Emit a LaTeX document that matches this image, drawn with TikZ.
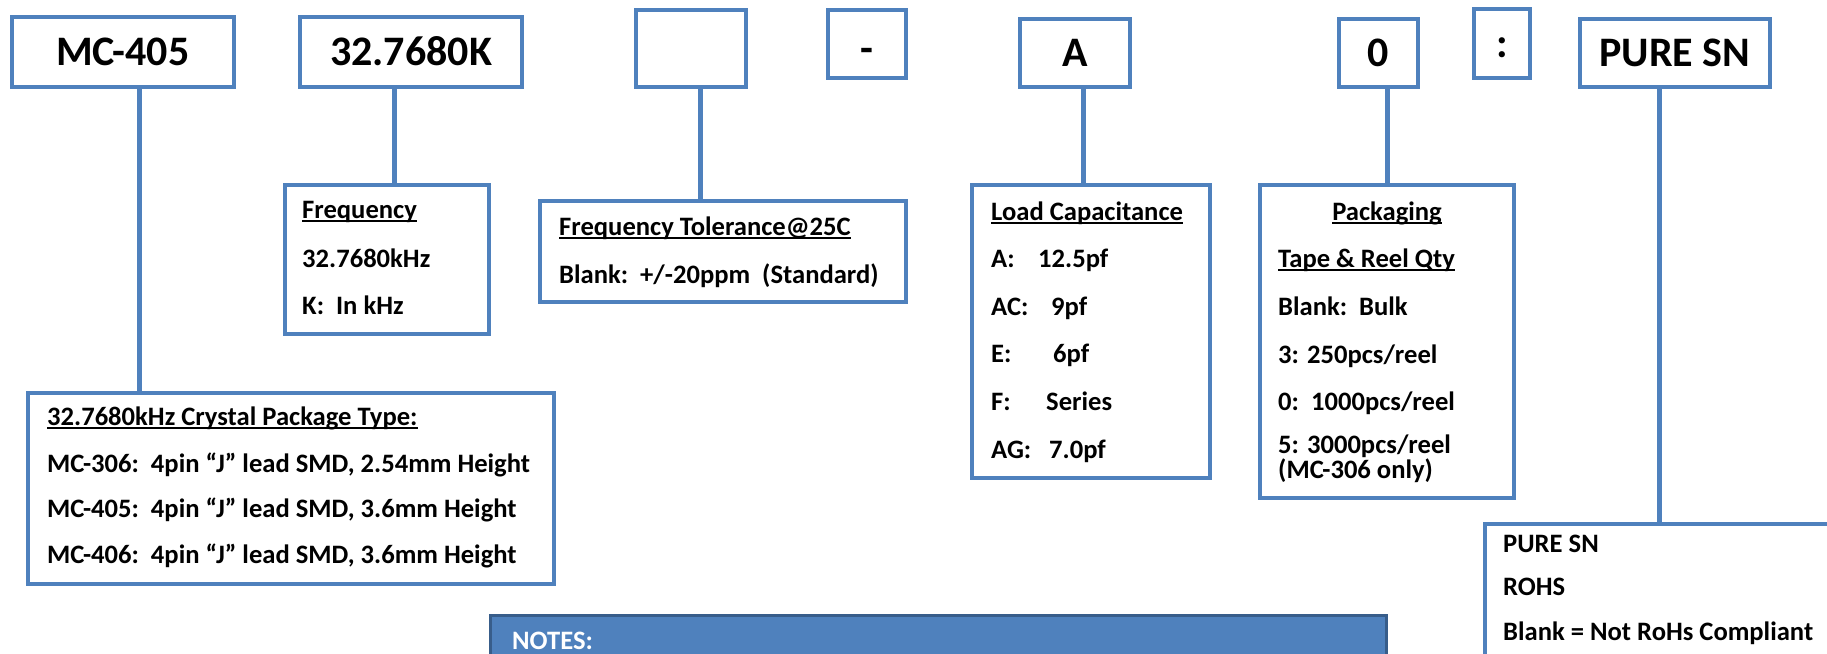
\documentclass[tikz,border=0pt]{standalone}
\usepackage{fontspec}
\setmainfont{Carlito}
\definecolor{boxblue}{RGB}{79,129,189}
\definecolor{noteedge}{RGB}{56,93,138}
\tikzstyle{codebox} = [rectangle, draw=boxblue, line width=4.5pt, inner sep=0pt, text height=27pt, text depth=0pt, font=\fontsize{42}{50}\selectfont\bfseries]
\tikzstyle{infobox} = [rectangle, draw=boxblue, line width=4.5pt, inner sep=0pt]
\tikzstyle{notebox} = [rectangle, fill=boxblue, draw=noteedge, line width=3pt, inner sep=0pt]
\tikzstyle{entry} = [anchor=base west, inner sep=0pt, font=\fontsize{26.6}{30}\selectfont\bfseries]
\tikzstyle{link} = [draw=boxblue, line width=5pt]
\newcommand{\ulhead}[1]{\setbox0=\hbox{#1}\rlap{\rule[-4pt]{\wd0}{2pt}}\box0}

\begin{document}
\begin{tikzpicture}[x=1pt, y=-1pt]
	\useasboundingbox (0, 0) rectangle (1827, 653);
	\clip (0, 0) rectangle (1827, 653);
	% part number code
	\node (mc) at (122.75, 52) [codebox, minimum width=222pt, minimum height=70pt] {MC-405};
	\node (freqcode) at (411, 52) [codebox, minimum width=222pt, minimum height=70pt] {32.7680K};
	\node (tolcode) at (691, 48.5) [codebox, minimum width=110pt, minimum height=77pt] {};
	\node (dash) at (867, 44) [codebox, text height=37pt, minimum width=78pt, minimum height=68pt] {-};
	\node (loadcode) at (1075, 53) [codebox, minimum width=110pt, minimum height=68pt] {A};
	\node (packcode) at (1378.5, 53) [codebox, minimum width=79pt, minimum height=68pt] {0};
	\node (colon) at (1502, 43.5) [codebox, minimum width=56pt, minimum height=69pt] {:};
	\node (sncode) at (1675, 53) [codebox, minimum width=190pt, minimum height=68pt] {PURE SN};

	% explanation boxes
	\node (freq) at (387, 259.5) [infobox, minimum width=204pt, minimum height=149pt] {};
	\node (tol) at (723, 251.5) [infobox, minimum width=366pt, minimum height=101pt] {};
	\node (load) at (1091, 331.5) [infobox, minimum width=238pt, minimum height=293pt] {};
	\node (pack) at (1387, 341.5) [infobox, minimum width=254pt, minimum height=313pt] {};
	\node (pkg) at (291, 488.5) [infobox, minimum width=526pt, minimum height=191pt] {};
	\node (rohs) at (1672.5, 612) [infobox, minimum width=375pt, minimum height=176pt] {};
	\node (notes) at (938.5, 660) [notebox, minimum width=896pt, minimum height=89pt] {};

	% connectors
	\coordinate (mcx) at (139, 0);
	\coordinate (freqx) at (394, 0);
	\coordinate (tolx) at (700, 0);
	\coordinate (loadx) at (1083, 0);
	\coordinate (packx) at (1387, 0);
	\coordinate (snx) at (1659, 0);
	\draw [link] (mc.south -| mcx) -- (pkg.north -| mcx);
	\draw [link] (freqcode.south -| freqx) -- (freq.north -| freqx);
	\draw [link] (tolcode.south -| tolx) -- (tol.north -| tolx);
	\draw [link] (loadcode.south -| loadx) -- (load.north -| loadx);
	\draw [link] (packcode.south -| packx) -- (pack.north -| packx);
	\draw [link] (sncode.south -| snx) -- (rohs.north -| snx);

	% texts
	\node (freq1) at (302, 218) [entry] {\ulhead{Frequency}};
	\node (freq2) at (302, 267) [entry] {32.7680kHz};
	\node (freq3) at (302, 314) [entry] {K:\ \ In kHz};

	\node (tol1) at (559, 235) [entry] {\ulhead{Frequency Tolerance@25C}};
	\node (tol2) at (559, 283) [entry] {Blank:\ \ +/-20ppm\ \ (Standard)};

	\node (load1) at (991, 220) [entry] {\ulhead{Load Capacitance}};
	\node (load2) at (991, 267) [entry] {\makebox[47pt][l]{A:}12.5pf};
	\node (load3) at (991, 315) [entry] {\makebox[60pt][l]{AC:}9pf};
	\node (load4) at (991, 362) [entry] {\makebox[62pt][l]{E:}6pf};
	\node (load5) at (991, 410) [entry] {\makebox[55pt][l]{F:}Series};
	\node (load6) at (991, 458) [entry] {\makebox[58pt][l]{AG:}7.0pf};

	\node (pack1) at (1387, 220) [entry, anchor=base] {\ulhead{Packaging}};
	\node (pack2) at (1278, 267) [entry] {\ulhead{Tape \& Reel Qty}};
	\node (pack3) at (1278, 315) [entry] {Blank:\ \ Bulk};
	\node (pack4) at (1278, 363) [entry] {3: 250pcs/reel};
	\node (pack5) at (1278, 410) [entry] {0:\ \ 1000pcs/reel};
	\node (pack6) at (1278, 453) [entry] {5: 3000pcs/reel};
	\node (pack7) at (1278, 478) [entry] {(MC-306 only)};

	\node (pkg1) at (47, 425) [entry] {\ulhead{32.7680kHz Crystal Package Type:}};
	\node (pkg2) at (47, 472) [entry] {MC-306:\ \ 4pin “J” lead SMD, 2.54mm Height};
	\node (pkg3) at (47, 517) [entry] {MC-405:\ \ 4pin “J” lead SMD, 3.6mm Height};
	\node (pkg4) at (47, 563) [entry] {MC-406:\ \ 4pin “J” lead SMD, 3.6mm Height};

	\node (rohs1) at (1503, 552) [entry] {PURE SN};
	\node (rohs2) at (1503, 595) [entry] {ROHS};
	\node (rohs3) at (1503, 640) [entry] {Blank = Not RoHs Compliant};

	\node (notes1) at (512, 649) [entry, text=white] {NOTES:};
\end{tikzpicture}
\end{document}
